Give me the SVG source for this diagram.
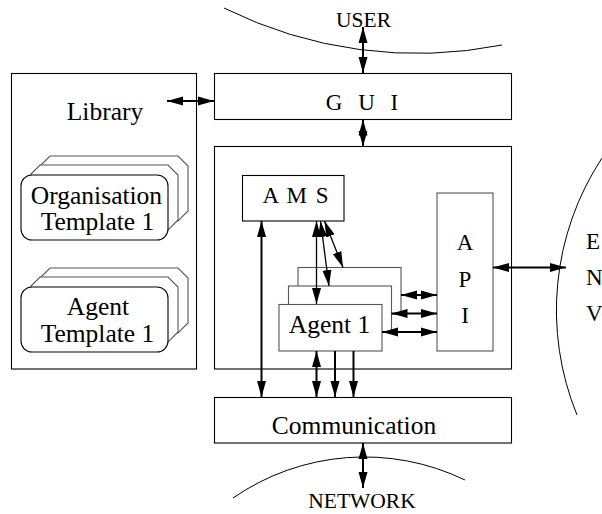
<svg xmlns="http://www.w3.org/2000/svg" width="602" height="514" viewBox="0 0 602 514">
<style>
.box{fill:#fff;stroke:#000;stroke-width:1.1}
.gbox{fill:#fff;stroke:#555;stroke-width:1.1}
.t{font-family:"Liberation Serif","Times New Roman",serif;fill:#000}
.big{font-size:25.5px}
.mid{font-size:23px}
.sm{font-size:21.5px}
.arc{fill:none;stroke:#000;stroke-width:1}
.c{fill:none;stroke:#000;stroke-width:2;marker-end:url(#ah)}
.d{marker-start:url(#ah)}
.thin{stroke-width:1.3}
</style>
<defs>
<marker id="ah" markerUnits="userSpaceOnUse" markerWidth="17" markerHeight="10" refX="16" refY="4.5" orient="auto-start-reverse" viewBox="0 0 17 9">
<path d="M0,0 L16,4.5 L0,9 z" fill="#000"/>
</marker>
</defs>
<rect width="602" height="514" fill="#fff"/>

<g id="user">
<path class="arc" d="M224,8 A434,434 0 0 0 502,45"/>
<text class="t sm" x="363.5" y="26.7" text-anchor="middle">USER</text>
</g>
<g id="network">
<path class="arc" d="M233,498 A231,231 0 0 1 465,480"/>
<text class="t sm" x="362" y="507.7" text-anchor="middle">NETWORK</text>
</g>
<g id="env">
<path class="arc" d="M602,158 A277,277 0 0 0 577,415"/>
<text class="t mid" x="586" y="248.5">E</text>
<text class="t mid" x="586" y="285">N</text>
<text class="t mid" x="586" y="320.5">V</text>
</g>

<g id="library">
<rect class="box" x="11.5" y="73.5" width="185" height="295.5"/>
<text class="t big" x="105" y="120" text-anchor="middle">Library</text>
</g>
<g id="org-template">
<polygon class="gbox" points="41,165 50,156 178,156 188,166 188,211 178,221 50,221 41,212"/>
<polygon class="gbox" points="31,174 40,165 168,165 178,175 178,220 168,230 40,230 31,221"/>
<rect class="box" x="21" y="175" width="147" height="65" rx="11"/>
<text class="t big" x="96.5" y="203.5" text-anchor="middle">Organisation</text>
<text class="t big" x="97.5" y="230" text-anchor="middle">Template 1</text>
</g>
<g id="agent-template">
<polygon class="gbox" points="41,277 50,268 178,268 188,278 188,323 178,333 50,333 41,324"/>
<polygon class="gbox" points="31,286 40,277 168,277 178,287 178,332 168,342 40,342 31,333"/>
<rect class="box" x="21" y="287" width="147" height="65" rx="11"/>
<text class="t big" x="98" y="315" text-anchor="middle">Agent</text>
<text class="t big" x="97.5" y="342" text-anchor="middle">Template 1</text>
</g>

<g id="gui">
<rect class="box" x="214.5" y="73.5" width="297" height="46"/>
<text class="t mid" x="362" y="110" text-anchor="middle" word-spacing="10">G U I</text>
</g>
<g id="platform">
<rect class="box" x="214.5" y="146.5" width="297" height="222.5"/>
</g>
<g id="ams">
<rect class="box" x="242.5" y="175.5" width="101.5" height="45.5"/>
<text class="t mid" x="295.5" y="203" text-anchor="middle" word-spacing="3">A M S</text>
</g>
<g id="api">
<rect class="gbox" x="437" y="193" width="56" height="158"/>
<text class="t mid" x="465" y="250" text-anchor="middle">A</text>
<text class="t mid" x="465" y="287" text-anchor="middle">P</text>
<text class="t mid" x="465" y="323" text-anchor="middle">I</text>
</g>
<g id="agent3">
<rect class="gbox" x="298" y="267.5" width="103" height="46.5"/>
</g>
<g id="agent2">
<rect class="gbox" x="288.5" y="286" width="103" height="46.5"/>
</g>
<g id="agent1">
<rect class="gbox" x="279" y="304.5" width="103" height="46.5"/>
<text class="t big" x="329.5" y="333.3" text-anchor="middle">Agent 1</text>
</g>
<g id="communication">
<rect class="box" x="214.5" y="397.5" width="297" height="45.5"/>
<text class="t big" x="354" y="434" text-anchor="middle">Communication</text>
</g>

<g id="connectors">
<path class="c d" d="M167,101 L214,101"/>
<path class="c d" d="M363,27 L363,73"/>
<path class="c d" d="M363,119.5 L363,146.5"/>
<path class="c d" d="M363,443 L363,488"/>
<path class="c d" d="M493,267.5 L566,267.5"/>
<path class="c d" d="M261.5,221 L261.5,397"/>
<path class="c d thin" d="M316.5,221 L316.5,304"/>
<path class="c d thin" d="M320.5,221 L329,286"/>
<path class="c d thin" d="M324.5,221 L343,267.5"/>
<path class="c d" d="M401,295 L437,295"/>
<path class="c d" d="M391.5,313.5 L437,313.5"/>
<path class="c d" d="M382,332 L437,332"/>
<path class="c d" d="M316.5,351 L316.5,397"/>
<path class="c" d="M335,351 L335,397"/>
<path class="c" d="M353.5,351 L353.5,397"/>
</g>
</svg>
